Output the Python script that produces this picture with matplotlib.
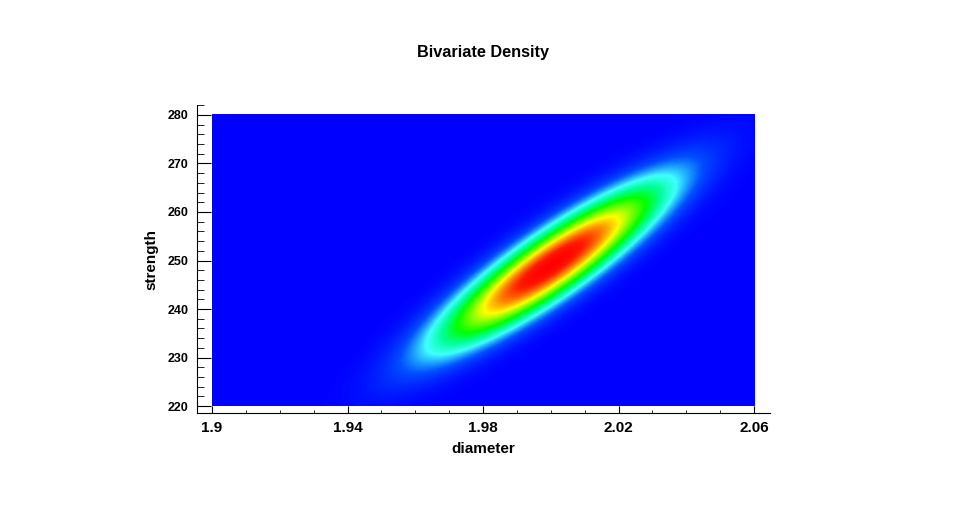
import numpy as np
import matplotlib
matplotlib.use('Agg')
import matplotlib.pyplot as plt
from matplotlib.colors import LinearSegmentedColormap
from matplotlib.ticker import MultipleLocator

# parametros da normal bivariada
media = [2.0, 249.0]
desvio = [0.02, 10.0]
rho = 0.89

x_range = [1.9, 2.06]
y_range = [220, 280]
x_ticks = [1.9, 1.94, 1.98, 2.02, 2.06]
x_ticklabels = ['1.9', '1.94', '1.98', '2.02', '2.06']
y_ticks = [220, 230, 240, 250, 260, 270, 280]

# --- densidade ---
xs = np.linspace(x_range[0], x_range[1], 400)
ys = np.linspace(y_range[0], y_range[1], 400)
X, Y = np.meshgrid(xs, ys)
u = (X - media[0]) / desvio[0]
v = (Y - media[1]) / desvio[1]
Z = np.exp(-(u**2 - 2*rho*u*v + v**2) / (2*(1 - rho**2)))
Z = Z / (2*np.pi*desvio[0]*desvio[1]*np.sqrt(1 - rho**2))

cores = [(0.0, (0, 0, 1)),
         (0.08, (0, 0.3, 1)),
         (0.18, (0.25, 1, 1)),
         (0.27, (0, 1, 0.6)),
         (0.38, (0, 1, 0)),
         (0.5, (0.5, 1, 0)),
         (0.61, (1, 1, 0)),
         (0.76, (1, 0.5, 0)),
         (0.9, (1, 0.1, 0)),
         (1.0, (1, 0, 0))]
cmap = LinearSegmentedColormap.from_list('dens', cores)

fig = plt.figure(figsize=(9.68, 5.18), dpi=100)
ax = fig.add_axes([197/968, 105/518, 573/968, 308/518])
ax.imshow(Z, extent=[x_range[0], x_range[1], y_range[0], y_range[1]],
          origin='lower', aspect='auto', cmap=cmap, interpolation='bilinear')

ax.set_xlim(1.89557, 2.06472)
ax.set_ylim(218.56, 282.06)
for s in ['top', 'right']:
    ax.spines[s].set_visible(False)

ax.set_xticks(x_ticks)
ax.set_xticklabels(x_ticklabels)
ax.set_yticks(y_ticks)
ax.xaxis.set_minor_locator(MultipleLocator(0.01))
ax.yaxis.set_minor_locator(MultipleLocator(2))
ax.tick_params(axis='x', which='major', direction='in', length=5, labelsize=11, pad=6)
ax.tick_params(axis='x', which='minor', direction='in', length=2.5)
ax.tick_params(axis='y', which='major', direction='in', length=10, labelsize=9, pad=6)
ax.tick_params(axis='y', which='minor', direction='in', length=5)
for lab in ax.get_xticklabels() + ax.get_yticklabels():
    lab.set_fontfamily('Liberation Sans')
    lab.set_fontweight('bold')

ax.set_xlabel('diameter', fontsize=11, fontweight='bold', family='Liberation Sans', labelpad=5)
ax.set_ylabel('strength', fontsize=11, fontweight='bold', family='Liberation Sans', labelpad=7)
fig.text(483/968, 1 - 52/518, 'Bivariate Density', ha='center', va='center',
         fontsize=11.7, fontweight='bold', family='Liberation Sans')

fig.savefig('out.png', dpi=100)
